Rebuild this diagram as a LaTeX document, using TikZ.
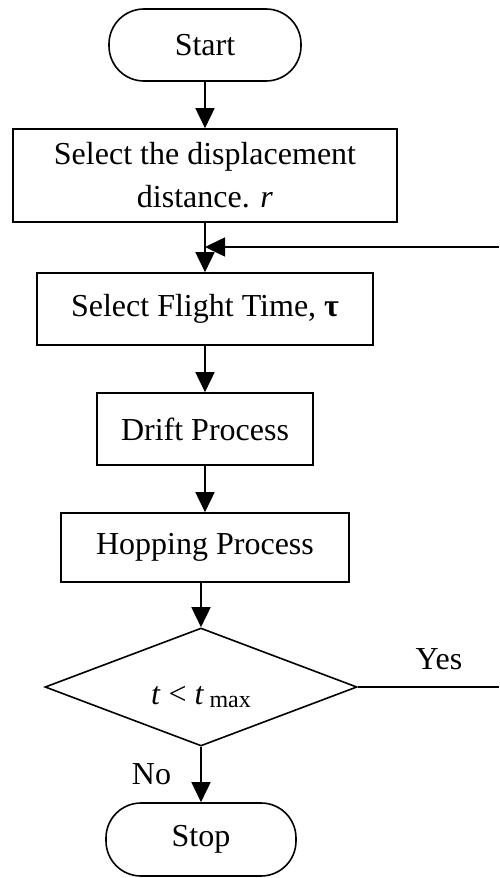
\documentclass[tikz,border=0pt]{standalone}
\usepackage{fontspec}
\setmainfont{Liberation Serif}
\usetikzlibrary{shapes.geometric,arrows.meta}
\begin{document}
\begin{tikzpicture}[x={(0.5pt,0)},y={(0,-0.5pt)},font=\fontsize{16}{21.5}\selectfont,line width=0.8pt,
term/.style={draw,rectangle,rounded corners=17.5pt,inner sep=0pt},
proc/.style={draw,rectangle,inner sep=0pt,align=center},
decide/.style={draw,diamond,inner sep=0pt},
arr/.style={-{Triangle[length=10pt,width=9.5pt]}}]
\useasboundingbox (0,0) rectangle (499,878);
\node[term,minimum width=96pt,minimum height=36pt] (start) at (205,45) {Start};
\node[proc,minimum width=192pt,minimum height=46.5pt] (sel) at (205,175.5) {Select the displacement\\distance. \textit{r}};
\node[proc,minimum width=168pt,minimum height=36pt] (flight) at (205,309) {Select Flight Time, {\bfseries τ}};
\node[proc,minimum width=108pt,minimum height=36pt] (drift) at (205,429) {Drift Process};
\node[proc,minimum width=144pt,minimum height=34.5pt] (hop) at (205,547.5) {Hopping Process};
\node[decide,minimum width=156pt,minimum height=59pt] (dec) at (201,687) {\raisebox{-8.5pt}[0pt][0pt]{\textit{t} < \textit{t}\,\raisebox{-1.5pt}{\fontsize{12}{14}\selectfont max}}};
\node[term,minimum width=95pt,minimum height=36.5pt] (stop) at (201,839.5) {Stop};
\node (yes) at (439,659) {Yes};
\node (no) at (151.5,774) {No};
\coordinate (back) at (499,247);
\coordinate (join) at (205,247);
\coordinate (yesend) at (499,687);
\foreach \A/\B in {start/sel,sel/flight,flight/drift,drift/hop,hop/dec,dec/stop}
{\draw[arr] (\B.north |- \A.south) -- (\B.north);}
\draw[arr] (back) -- (join);
\draw (dec.east) -- (yesend);
\end{tikzpicture}
\end{document}
